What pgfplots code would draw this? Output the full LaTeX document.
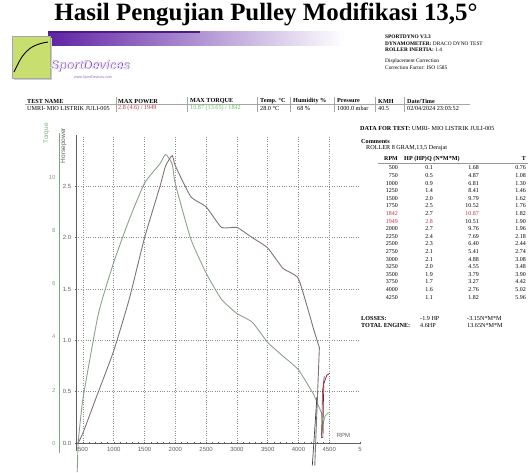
\documentclass[border=0pt]{standalone}
\usepackage{pgfplots}
\pgfplotsset{compat=1.18}
\usepackage{fontspec}
\setmainfont{Liberation Serif}
\newfontfamily\sans{Liberation Sans}
\definecolor{hpcol}{RGB}{128,116,122}
\definecolor{tqcol}{RGB}{140,162,140}
\definecolor{gridc}{RGB}{140,140,140}
\definecolor{axc}{RGB}{95,95,95}
\definecolor{tqax}{RGB}{125,170,125}
\definecolor{purp}{RGB}{95,35,165}
\definecolor{limec}{RGB}{200,222,110}
\definecolor{redt}{RGB}{195,45,70}
\definecolor{grnt}{RGB}{95,195,95}
\definecolor{darkred}{RGB}{120,30,50}
\newcommand{\fs}[1]{\fontsize{#1}{#1}\selectfont}
\begin{document}
\begin{tikzpicture}
\begin{scope}[x=1bp,y=-1bp]
\useasboundingbox (0,0) rectangle (530,466);
\fill[white] (0,0) rectangle (530,466);
% title
\node[font={\fs{25}\bfseries}] at (266,14) {Hasil Pengujian Pulley Modifikasi 13,5°};
% logo
\shade[left color=purp, middle color=purp!45, right color=white] (48,31) rectangle (345,45);
\fill[purp!80!black] (48,31) rectangle (200,32.5);
\fill[gray!40] (14,38) rectangle (52,80);
\fill[limec, draw=gray!70] (12,36) rectangle (50,78);
\draw[black, line width=0.9pt] (14,72) .. controls (22,55) and (27,45) .. (48,42);
\node[font={\sans\itshape\bfseries\fs{12.5}}, text=purp] at (90.6,66.6) {SportDevices};
\node[font={\sans\itshape\bfseries\fs{12.5}}, text=purp!12] at (90,66) {SportDevices};
\node[font={\sans\fs{3.6}}, text=purp!70] at (93,78) {www.SportDevices.com};
% right header
\begin{scope}[every node/.style={anchor=west, font=\fs{5.4}, inner sep=0pt}]
\node at (385,37) {\textbf{SPORTDYNO V3.3}};
\node at (385,43.5) {\textbf{DYNAMOMETER:} DRACO DYNO TEST};
\node at (385,50) {\textbf{ROLLER INERTIA:} 1.4};
\node at (385,61) {Displacement Correction};
\node at (385,67.5) {Correction Factor: ISO 1585};
\end{scope}
% header row
\begin{scope}[every node/.style={anchor=west, font=\fs{6.2}, inner sep=0pt}]
\node at (27,101) {\textbf{TEST NAME}};
\node at (118,101) {\textbf{MAX POWER}};
\node at (190,101) {\textbf{MAX TORQUE}};
\node at (260,101) {\textbf{Temp. °C}};
\node at (293,101) {\textbf{Humidity \%}};
\node at (337,101) {\textbf{Pressure}};
\node at (378,101) {\textbf{KMH}};
\node at (407,101) {\textbf{Date/Time}};
\node at (27,108.5) {UMRI- MIO LISTRIK JULI-005};
\node[text=redt] at (118,108.5) {2.8 (4.6) / 1949};
\node[text=grnt] at (190,108.5) {10.87 (13.65) / 1842};
\node at (260,108.5) {28.0 °C};
\node at (297,108.5) {68 \%};
\node at (337,108.5) {1000.0 mbar};
\node at (378,108.5) {40.5};
\node at (407,108.5) {02/04/2024 23:03:52};
% data for test
\node at (360,128) {\textbf{DATA FOR TEST:} UMRI- MIO LISTRIK JULI-005};
\node at (361,141) {\textbf{Comments}};
\node at (366,148) {ROLLER 8 GRAM,13,5 Derajat};
\node at (361,318) {\textbf{LOSSES:}};
\node at (361,325.5) {\textbf{TOTAL ENGINE:}};
\node at (420,318) {-1.9 HP};
\node at (420,325.5) {4.6HP};
\node at (467,318) {-3.15N*M*M};
\node at (467,325.5) {13.65N*M*M};
\node at (404,159) {\textbf{HP (HP)Q (N*M*M)}};
\end{scope}
\draw[gray!70, line width=0.8pt] (25,104.8) -- (470,104.8);
\foreach \xx in {116,187,257,290,334,375,404} \draw[gray!70, line width=0.4pt] (\xx,97) -- (\xx,112);
\draw[gray!80, line width=1pt] (378,163) -- (528,163);
\begin{scope}[every node/.style={anchor=east, font=\fs{6}, inner sep=0pt}]
\node at (398,159) {\textbf{RPM}};
\node at (526,159) {\textbf{T}};
\foreach \r/\h/\q/\t/\cr/\ch/\cq [count=\i] in {
500/0.1/1.68/0.76/black/black/black,
750/0.5/4.87/1.08/black/black/black,
1000/0.9/6.81/1.30/black/black/black,
1250/1.4/8.41/1.46/black/black/black,
1500/2.0/9.79/1.62/black/black/black,
1750/2.5/10.52/1.76/black/black/black,
1842/2.7/10.87/1.82/redt/black/redt,
1949/2.8/10.51/1.90/redt/redt/black,
2000/2.7/9.76/1.96/black/black/black,
2250/2.4/7.69/2.18/black/black/black,
2500/2.3/6.40/2.44/black/black/black,
2750/2.1/5.41/2.74/black/black/black,
3000/2.1/4.88/3.08/black/black/black,
3250/2.0/4.55/3.48/black/black/black,
3500/1.9/3.79/3.90/black/black/black,
3750/1.7/3.27/4.42/black/black/black,
4000/1.6/2.76/5.02/black/black/black,
4250/1.1/1.82/5.96/black/black/black}{
\pgfmathsetmacro\yy{168+(\i-1)*7.6}
\node[text=\cr] at (398,\yy) {\r};
\node[text=\ch] at (433,\yy) {\h};
\node[text=\cq] at (479,\yy) {\q};
\node at (526,\yy) {\t};
}
\end{scope}
% axis labels
\node[rotate=90, anchor=east, font={\sans\fs{6.5}}, text=tqax, inner sep=0pt] at (46.5,123) {Torque};
\node[rotate=90, anchor=east, font={\sans\fs{6.5}}, text=axc, inner sep=0pt] at (63.5,128) {Horsepower};
\end{scope}
% torque axis
\begin{axis}[
  at={(59bp,-443bp)}, anchor=south west,
  scale only axis, width=301bp, height=308bp,
  xmin=110, xmax=5000, ymin=0, ymax=11.6,
  axis x line=none, axis y line*=left,
  axis line style={-, tqax, line width=1pt},
  y axis line style={shorten >=-2bp, shorten <=-10bp},
  clip=false,
  ytick={0,2,...,10},
  major tick length=0pt,
  tick label style={font={\sans\fs{6}}, text=tqax},
  /pgf/number format/assume math mode=true,
]
\addplot[tqcol, line width=0.9pt, smooth, tension=0.3] coordinates {
(420,0) (500,1.68) (750,4.87) (1000,6.81) (1250,8.41) (1500,9.79) (1750,10.52) (1842,10.87) (1949,10.51) (2000,9.76) (2250,7.69) (2500,6.40) (2750,5.41) (3000,4.88) (3250,4.55) (3500,3.79) (3750,3.27) (4000,2.76) (4250,1.82)};
\addplot[tqcol, line width=0.9pt] coordinates {(405,-1.1) (420,0)};
\addplot[tqcol, line width=0.9pt] coordinates {(4250,1.82) (4380,1.1) (4400,0.4)};
\addplot[grnt, line width=0.7pt] coordinates {(4370,0.3) (4390,0.6) (4430,1.0) (4470,1.12) (4510,1.15)};
\end{axis}
% HP axis
\begin{axis}[
  at={(76bp,-443bp)}, anchor=south west,
  scale only axis, width=284bp, height=308bp,
  xmin=386, xmax=5000, ymin=0, ymax=3.0,
  axis x line=bottom, axis y line=left,
  axis line style={-, axc, line width=0.9pt},
  y axis line style={shorten <=-8bp},
  clip=false,
  xtick={500,1000,...,4500},
  extra x ticks={5000}, extra x tick labels={5},
  extra x tick style={grid=none},
  minor x tick num=4,
  ytick={0,0.5,...,2.5},
  y tick label style={/pgf/number format/.cd, fixed, fixed zerofill, precision=1, /tikz/.cd},
  x tick label style={/pgf/number format/1000 sep={}},
  xmajorgrids, ymajorgrids,
  major grid style={gridc, dotted, line width=0.6pt},
  tick style={axc, line width=0.4pt},
  major tick length=2.5bp, minor tick length=1.5bp,
  tick label style={font={\sans\fs{6}}, text=axc},
  /pgf/number format/assume math mode=true,
]
\addplot[hpcol, line width=0.9pt, smooth, tension=0.3] coordinates {
(420,0) (500,0.1) (750,0.5) (1000,0.9) (1250,1.4) (1500,2.0) (1750,2.5) (1842,2.7) (1949,2.8) (2000,2.7) (2250,2.4) (2500,2.3) (2750,2.1) (3000,2.1) (3250,2.0) (3500,1.9) (3750,1.7) (4000,1.6) (4250,1.1)};
\addplot[hpcol, line width=0.9pt] coordinates {(4250,1.1) (4340,0.93) (4265,-0.22)};
\addplot[black!75, line width=0.7pt] coordinates {(4225,-0.22) (4300,0.45)};
\addplot[darkred, line width=0.7pt] coordinates {(4396,0.05) (4405,0.4) (4413,0.58) (4461,0.66) (4510,0.68)};
\addplot[darkred, line width=0.6pt] coordinates {(4375,0.05) (4390,0.5) (4420,0.65)};
\node[font={\sans\fs{6}}, text=axc, anchor=south] at (axis cs:4730,0.02) {RPM};
\end{axis}
\end{tikzpicture}
\end{document}
